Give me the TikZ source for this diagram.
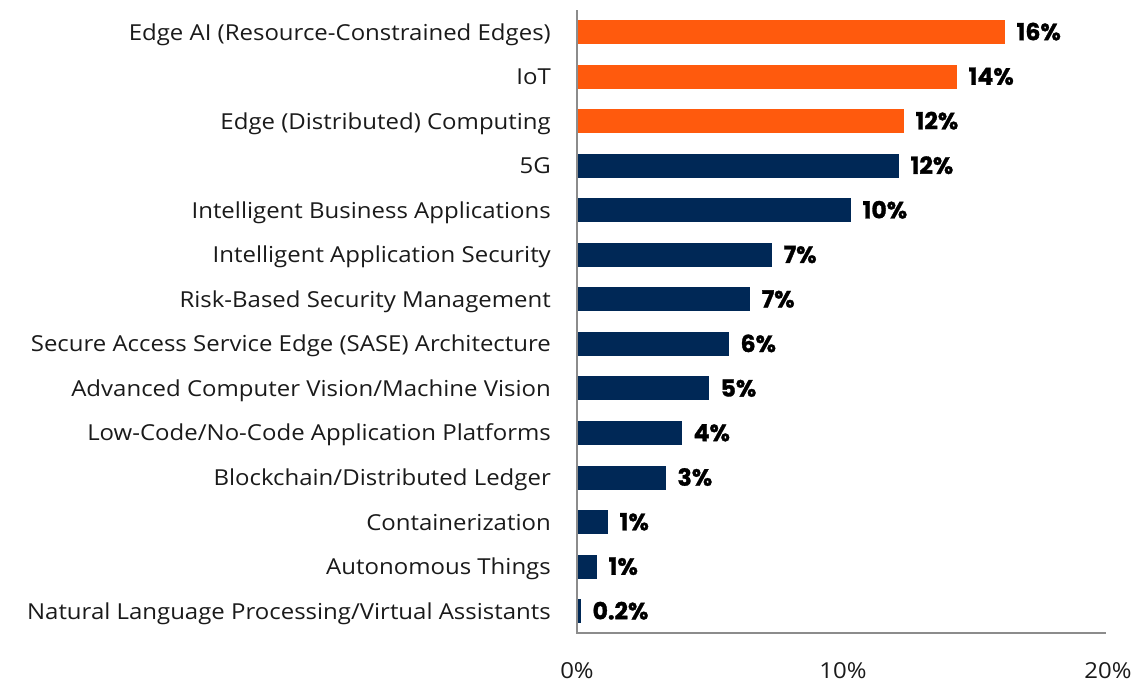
\documentclass[tikz,border=0pt]{standalone}
\usepackage{fontspec}
\setmainfont{Open Sans}[FakeStretch=1.09]
\newfontfamily\valfont{Poppins}[BoldFeatures={FakeBold=1.3}]
\definecolor{barorange}{HTML}{FF5A0D}
\definecolor{barnavy}{HTML}{002856}
\definecolor{axisgray}{HTML}{8C8C8C}
\definecolor{txt}{HTML}{1A1A1A}
\begin{document}
\begin{tikzpicture}[x=1pt,y=-1pt,
  cat/.style={anchor=base east,inner sep=0pt,font=\fontsize{22}{24}\selectfont,text=txt},
  val/.style={anchor=base west,inner sep=0pt,font=\valfont\bfseries\fontsize{23.5}{26}\selectfont,text=black},
  tick/.style={anchor=base,inner sep=0pt,font=\fontsize{22}{24}\selectfont,text=txt},
  axisline/.style={draw=axisgray,line width=1.5pt},
  obar/.style={fill=barorange,draw=none},
  nbar/.style={fill=barnavy,draw=none}]
\useasboundingbox (0,0) rectangle (1136,681);
\def\rowsp{44.55}
\foreach \i/\lab/\e/\v/\st in {
 0/{Edge AI (Resource-Constrained Edges)}/1005/16\%/obar,
 1/{IoT}/957/14\%/obar,
 2/{Edge (Distributed) Computing}/904/12\%/obar,
 3/{5G}/899/12\%/nbar,
 4/{Intelligent Business Applications}/851/10\%/nbar,
 5/{Intelligent Application Security}/772/7\%/nbar,
 6/{Risk-Based Security Management}/750/7\%/nbar,
 7/{Secure Access Service Edge (SASE) Architecture}/729/6\%/nbar,
 8/{Advanced Computer Vision/Machine Vision}/709/5\%/nbar,
 9/{Low-Code/No-Code Application Platforms}/682/4\%/nbar,
 10/{Blockchain/Distributed Ledger}/666/3\%/nbar,
 11/{Containerization}/608/1\%/nbar,
 12/{Autonomous Things}/597/1\%/nbar,
 13/{Natural Language Processing/Virtual Assistants}/581/0.2\%/nbar}{
  \pgfmathsetmacro{\yc}{32+\i*\rowsp}
  \node[\st,minimum width=\e-578,minimum height=24,inner sep=0pt,anchor=west] (bar\i) at (578,\yc) {};
  \node[cat] (cat\i) at (551,\yc+8) {\lab};
  \node[val] (val\i) at ([xshift=11pt,yshift=-8.2pt]bar\i.east) {\v};
}
\coordinate (origin) at (577,633);
\coordinate (top) at (577,10);
\coordinate (xend) at (1106,633);
\draw[axisline] (top) -- (origin) -- (xend);
\node[tick] (t0) at (577,678) {0\%};
\node[tick] (t10) at (843,678) {10\%};
\node[tick] (t20) at (1108,678) {20\%};
\end{tikzpicture}
\end{document}
